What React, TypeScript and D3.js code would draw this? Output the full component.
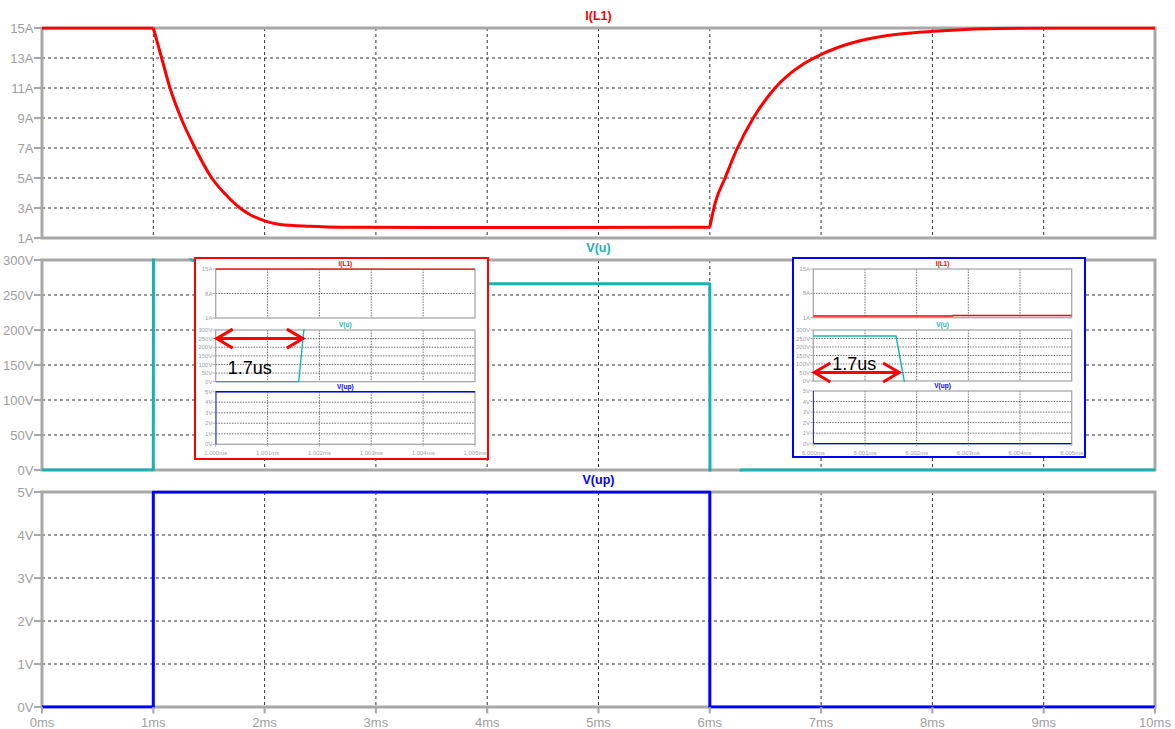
import { useEffect, useRef } from "react";
import * as d3 from "d3";

// ---- main transient, 0 .. 10 ms ----
const msTicks = [0, 1, 2, 3, 4, 5, 6, 7, 8, 9, 10];
const ampTicks = [1, 3, 5, 7, 9, 11, 13, 15];
const voltTicks = [0, 50, 100, 150, 200, 250, 300];
const logicTicks = [0, 1, 2, 3, 4, 5];

const iL1Time = [0, 1, 1.075, 1.15, 1.249, 1.375, 1.525, 1.65, 1.779, 1.87, 1.959, 2.138, 2.408, 2.677, 3.5, 4.5, 6,
  6.047, 6.137, 6.242, 6.391, 6.586, 6.84, 6.99, 7.15, 7.349, 7.709, 8.005, 8.491, 9.12, 10];
const iL1Amp = [15, 15, 13, 11, 9, 7, 5, 3.9, 3, 2.55, 2.26, 1.9, 1.78, 1.72, 1.7, 1.7, 1.72,
  3.3, 5, 6.9, 9, 11, 12.6, 13.2, 13.7, 14.15, 14.6, 14.78, 14.95, 15, 15];
// the current has sharp corners where the switch changes state
const iL1Corners = [1, 6];

const vuTime = [0, 1, 1.0017, 1.35, 1.8, 2.5, 4, 6, 6.0017, 6.28, 6.2801, 10];
const vuVolt = [0, 0, 350, 300, 280, 268, 266, 266, -20, -20, 0, 0];

const vupTime = [0, 1, 1, 6, 6, 10];
const vupVolt = [0, 0, 5, 5, 0, 0];

// ---- zoom at turn-on, 1.000 .. 1.005 ms ----
const onTicks = [1.0, 1.001, 1.002, 1.003, 1.004, 1.005];
const onITime = [1.0, 1.005];
const onIAmp = [15, 14.97];
const onVuTime = [1.0, 1.0016, 1.0017, 1.0018, 1.005];
const onVuVolt = [0, 0, 300, 340, 340];
const onVupTime = [1.0, 1.0, 1.005];
const onVupVolt = [0, 5, 5];

// ---- zoom at turn-off, 6.000 .. 6.005 ms ----
const offTicks = [6.0, 6.001, 6.002, 6.003, 6.004, 6.005];
const offITime = [6.0, 6.0027, 6.0027, 6.005];
const offIAmp = [1.5, 1.5, 1.65, 1.65];
const offVuTime = [6.0, 6.0016, 6.00176, 6.0018, 6.005];
const offVuVolt = [265, 265, 0, -20, -20];
const offVupTime = [6.0, 6.0, 6.005];
const offVupVolt = [5, 0, 0];

const insetAmpTicks = [1, 8, 15];

const RED = "#ff0000";
const TEAL = "#17b2b2";
const BLUE = "#0000ff";
const FRAME = "#a8a8a8";
const LABEL = "#a0a0a0";

type Trace = { t: number[]; v: number[]; color: string; corners?: number[] };
type Panel = {
  top: number;
  bottom: number;
  domain: [number, number];
  ticks: number[];
  unit: string;
  title: string;
  color: string;
  traces: Trace[];
};
type Scope = {
  left: number;
  right: number;
  xDomain: [number, number];
  xTicks: number[];
  xFmt: (d: number) => string;
  panels: Panel[];
  font: number;
  titleFont: number;
  titleGap: number;
  frameW: number;
  traceW: number;
  tickLen: number;
  gridW: number;
  gridDash: string;
  xLabelGap: number;
};

function drawScope(root: d3.Selection<SVGGElement, unknown, null, undefined>, s: Scope, id: string) {
  const x = d3.scaleLinear().domain(s.xDomain).range([s.left, s.right]);
  const defs = root.append("defs");

  s.panels.forEach((p, i) => {
    const y = d3.scaleLinear().domain(p.domain).range([p.bottom, p.top]);
    const g = root.append("g");

    // grid
    g.selectAll(".vgrid")
      .data(s.xTicks.slice(1, -1))
      .join("line")
      .attr("class", "vgrid")
      .attr("x1", (d) => x(d))
      .attr("x2", (d) => x(d))
      .attr("y1", p.top)
      .attr("y2", p.bottom)
      .attr("stroke", "#333")
      .attr("stroke-width", s.gridW)
      .attr("stroke-dasharray", s.gridDash);

    g.selectAll(".hgrid")
      .data(p.ticks.slice(1, -1))
      .join("line")
      .attr("class", "hgrid")
      .attr("x1", s.left)
      .attr("x2", s.right)
      .attr("y1", (d) => y(d))
      .attr("y2", (d) => y(d))
      .attr("stroke", "#333")
      .attr("stroke-width", s.gridW)
      .attr("stroke-dasharray", s.gridDash);

    // frame
    g.append("rect")
      .attr("x", s.left)
      .attr("y", p.top)
      .attr("width", s.right - s.left)
      .attr("height", p.bottom - p.top)
      .attr("fill", "none")
      .attr("stroke", FRAME)
      .attr("stroke-width", s.frameW);

    // y ticks + labels
    g.selectAll(".ytick")
      .data(p.ticks)
      .join("line")
      .attr("class", "ytick")
      .attr("x1", s.left - s.tickLen)
      .attr("x2", s.left)
      .attr("y1", (d) => y(d))
      .attr("y2", (d) => y(d))
      .attr("stroke", FRAME)
      .attr("stroke-width", s.frameW * 0.7);

    g.selectAll(".ylab")
      .data(p.ticks)
      .join("text")
      .attr("class", "ylab")
      .attr("x", s.left - s.tickLen - s.font * 0.05)
      .attr("y", (d) => y(d))
      .attr("dy", "0.35em")
      .attr("text-anchor", "end")
      .style("font-size", s.font + "px")
      .style("fill", LABEL)
      .text((d) => `${d}${p.unit}`);

    // title
    g.append("text")
      .attr("x", (s.left + s.right) / 2)
      .attr("y", p.top - s.titleGap)
      .attr("text-anchor", "middle")
      .style("font-size", s.titleFont + "px")
      .style("font-weight", "bold")
      .style("fill", p.color)
      .text(p.title);

    // traces, clipped to the plot area
    const cid = `${id}-clip-${i}`;
    defs.append("clipPath")
      .attr("id", cid)
      .append("rect")
      .attr("x", s.left)
      .attr("y", p.top - s.traceW / 2)
      .attr("width", s.right - s.left)
      .attr("height", p.bottom - p.top + s.traceW);

    p.traces.forEach((tr) => {
      const pts = tr.t.map((t, k) => [t, tr.v[k]] as [number, number]);
      // split into pieces at the corners, smooth each piece
      const pieces: [number, number][][] = [];
      if (tr.corners) {
        let cur: [number, number][] = [];
        pts.forEach((pt) => {
          cur.push(pt);
          if (tr.corners!.includes(pt[0])) {
            pieces.push(cur);
            cur = [pt];
          }
        });
        if (cur.length > 1) pieces.push(cur);
      } else {
        pieces.push(pts);
      }
      const line = d3
        .line<[number, number]>()
        .x((d) => x(d[0]))
        .y((d) => y(d[1]))
        .curve(tr.corners ? d3.curveMonotoneX : d3.curveLinear);
      g.append("path")
        .attr("d", pieces.map((pc) => line(pc)).join(""))
        .attr("clip-path", `url(#${cid})`)
        .attr("fill", "none")
        .attr("stroke", tr.color)
        .attr("stroke-width", s.traceW)
        .attr("stroke-linejoin", "round");
    });

    // time axis under the last pane
    if (i === s.panels.length - 1) {
      g.selectAll(".xtick")
        .data(s.xTicks)
        .join("line")
        .attr("class", "xtick")
        .attr("x1", (d) => x(d))
        .attr("x2", (d) => x(d))
        .attr("y1", p.bottom)
        .attr("y2", p.bottom + s.tickLen * 0.8)
        .attr("stroke", FRAME)
        .attr("stroke-width", s.frameW * 0.7);

      g.selectAll(".xlab")
        .data(s.xTicks)
        .join("text")
        .attr("class", "xlab")
        .attr("x", (d) => x(d))
        .attr("y", p.bottom + s.xLabelGap)
        .attr("text-anchor", "middle")
        .style("font-size", s.font + "px")
        .style("fill", LABEL)
        .text((d) => s.xFmt(d));
    }
  });

  return x;
}

function drawArrow(
  root: d3.Selection<SVGGElement, unknown, null, undefined>,
  x1: number,
  x2: number,
  y: number
) {
  const g = root.append("g").attr("stroke", RED).attr("stroke-width", 3).attr("fill", "none");
  g.append("line").attr("x1", x1).attr("x2", x2).attr("y1", y).attr("y2", y);
  g.append("path").attr("d", `M${x1 + 17},${y - 9.5}L${x1 + 1},${y}L${x1 + 17},${y + 9.5}`);
  g.append("path").attr("d", `M${x2 - 17},${y - 9.5}L${x2 - 1},${y}L${x2 - 17},${y + 9.5}`);
}

export default function App() {
  const svgRef = useRef<SVGSVGElement>(null);

  useEffect(() => {
    if (!svgRef.current) return;
    const svg = d3.select(svgRef.current);
    svg.selectAll("*").remove();
    const root = svg.append("g") as d3.Selection<SVGGElement, unknown, null, undefined>;

    root.append("rect").attr("width", 1175).attr("height", 729).attr("fill", "#fff");

    // main window
    drawScope(
      root,
      {
        left: 42,
        right: 1155,
        xDomain: [0, 10],
        xTicks: msTicks,
        xFmt: (d) => `${d}ms`,
        font: 13,
        titleFont: 12.5,
        titleGap: 8,
        frameW: 3,
        traceW: 3,
        tickLen: 8,
        gridW: 1,
        gridDash: "3,3",
        xLabelGap: 20,
        panels: [
          { top: 28, bottom: 238, domain: [1, 15], ticks: ampTicks, unit: "A", title: "I(L1)", color: RED,
            traces: [{ t: iL1Time, v: iL1Amp, color: RED, corners: iL1Corners }] },
          { top: 260, bottom: 470, domain: [0, 300], ticks: voltTicks, unit: "V", title: "V(u)", color: TEAL,
            traces: [{ t: vuTime, v: vuVolt, color: TEAL }] },
          { top: 492, bottom: 707, domain: [0, 5], ticks: logicTicks, unit: "V", title: "V(up)", color: BLUE,
            traces: [{ t: vupTime, v: vupVolt, color: BLUE }] },
        ],
      },
      "main"
    );

    const insetBase = {
      xFmt: (d: number) => `${d.toFixed(3)}ms`,
      font: 6,
      titleFont: 6.5,
      titleGap: 3,
      frameW: 1.3,
      traceW: 1.4,
      tickLen: 3,
      gridW: 0.7,
      gridDash: "1.5,1.2",
      xLabelGap: 11,
    };

    // turn-on inset
    const onBox = root.append("g");
    onBox.append("rect").attr("x", 195).attr("y", 258).attr("width", 293).attr("height", 201)
      .attr("fill", "#fff").attr("stroke", RED).attr("stroke-width", 2);
    const onX = drawScope(
      onBox,
      {
        ...insetBase,
        left: 215.7,
        right: 475,
        xDomain: [1.0, 1.005],
        xTicks: onTicks,
        panels: [
          { top: 269, bottom: 318, domain: [1, 15], ticks: insetAmpTicks, unit: "A", title: "I(L1)", color: RED,
            traces: [{ t: onITime, v: onIAmp, color: RED }] },
          { top: 330, bottom: 381.7, domain: [0, 300], ticks: voltTicks, unit: "V", title: "V(u)", color: TEAL,
            traces: [{ t: onVuTime, v: onVuVolt, color: TEAL }] },
          { top: 391.7, bottom: 444.3, domain: [0, 5], ticks: logicTicks, unit: "V", title: "V(up)", color: BLUE,
            traces: [{ t: onVupTime, v: onVupVolt, color: BLUE }] },
        ],
      },
      "on"
    );
    const onY = d3.scaleLinear().domain([0, 300]).range([381.7, 330]);
    drawArrow(onBox, onX(1.0), onX(1.0017), onY(250));
    onBox.append("text").attr("x", onX(1.0) + 12).attr("y", onY(250) + 35)
      .style("font-size", "18px").style("fill", "#000").text("1.7us");

    // turn-off inset
    const offBox = root.append("g");
    offBox.append("rect").attr("x", 793).attr("y", 258).attr("width", 292).attr("height", 199)
      .attr("fill", "#fff").attr("stroke", BLUE).attr("stroke-width", 2);
    const offX = drawScope(
      offBox,
      {
        ...insetBase,
        left: 813.3,
        right: 1071.7,
        xDomain: [6.0, 6.005],
        xTicks: offTicks,
        panels: [
          { top: 269, bottom: 317.7, domain: [1, 15], ticks: insetAmpTicks, unit: "A", title: "I(L1)", color: RED,
            traces: [{ t: offITime, v: offIAmp, color: RED }] },
          { top: 330, bottom: 381, domain: [0, 300], ticks: voltTicks, unit: "V", title: "V(u)", color: TEAL,
            traces: [{ t: offVuTime, v: offVuVolt, color: TEAL }] },
          { top: 391, bottom: 443.7, domain: [0, 5], ticks: logicTicks, unit: "V", title: "V(up)", color: BLUE,
            traces: [{ t: offVupTime, v: offVupVolt, color: BLUE }] },
        ],
      },
      "off"
    );
    const offY = d3.scaleLinear().domain([0, 300]).range([381, 330]);
    drawArrow(offBox, offX(6.0), offX(6.00168), offY(50));
    offBox.append("text").attr("x", offX(6.0) + 19).attr("y", offY(50) - 3)
      .style("font-size", "18px").style("fill", "#000").text("1.7us");
  }, []);

  return (
    <svg
      ref={svgRef}
      width={1175}
      height={729}
      style={{ position: "absolute", left: 0, top: 0, fontFamily: "'Liberation Sans', Arial, sans-serif" }}
    />
  );
}
